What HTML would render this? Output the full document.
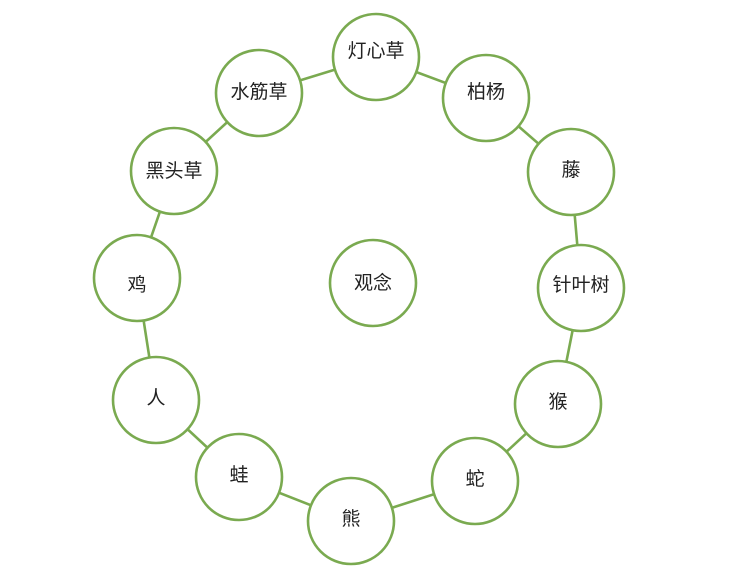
<!DOCTYPE html>
<html><head><meta charset="utf-8"><style>
html,body{margin:0;padding:0;background:#fff;width:749px;height:579px;overflow:hidden}
text{font-family:"Liberation Sans","Noto Sans CJK SC",sans-serif;font-size:19px;fill:#222}
</style></head><body>
<svg width="749" height="579" viewBox="0 0 749 579" xmlns="http://www.w3.org/2000/svg">
<g stroke="#7aaa50" stroke-width="2.6" fill="none">
<polyline points="376,57 486,98 571,172 581,288 558,404 475,481 351,521 239,477 156,400 137,278 174,171 259,93 376,57"/>
</g>
<g stroke="#7aaa50" stroke-width="2.6" fill="#fff">
<circle cx="376" cy="57" r="43"/>
<circle cx="486" cy="98" r="43"/>
<circle cx="571" cy="172" r="43"/>
<circle cx="581" cy="288" r="43"/>
<circle cx="558" cy="404" r="43"/>
<circle cx="475" cy="481" r="43"/>
<circle cx="351" cy="521" r="43"/>
<circle cx="239" cy="477" r="43"/>
<circle cx="156" cy="400" r="43"/>
<circle cx="137" cy="278" r="43"/>
<circle cx="174" cy="171" r="43"/>
<circle cx="259" cy="93" r="43"/>
<circle cx="373" cy="283" r="43"/>
</g>
<g text-anchor="middle">
<text x="376" y="57">灯心草</text>
<text x="486" y="98">柏杨</text>
<text x="571" y="176">藤</text>
<text x="581" y="291">针叶树</text>
<text x="558" y="408">猴</text>
<text x="475" y="485">蛇</text>
<text x="351" y="525">熊</text>
<text x="239" y="481">蛙</text>
<text x="156" y="404">人</text>
<text x="137" y="291">鸡</text>
<text x="174" y="177">黑头草</text>
<text x="259" y="98">水筋草</text>
<text x="373" y="289">观念</text>
</g>
</svg>
</body></html>
